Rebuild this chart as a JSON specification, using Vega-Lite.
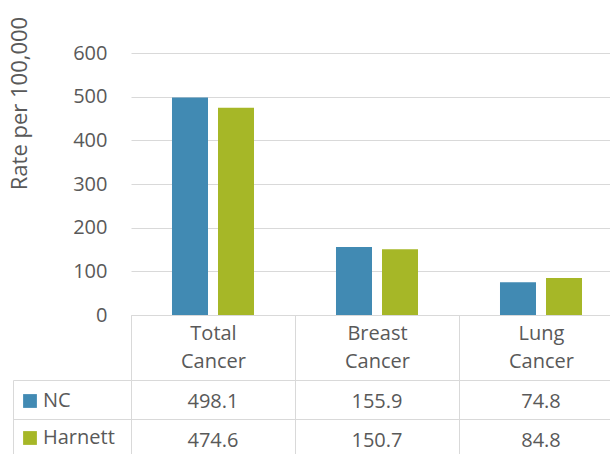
{
  "$schema": "https://vega.github.io/schema/vega-lite/v6.json",
  "padding": {"left": 7, "top": 16, "right": 0, "bottom": 0},
  "config": {"view": {"stroke": null}, "font": "Open Sans"},
  "data": {"values": [
    {"cancer": "Total Cancer", "region": "NC", "rate": 498.1},
    {"cancer": "Total Cancer", "region": "Harnett", "rate": 474.6},
    {"cancer": "Breast Cancer", "region": "NC", "rate": 155.9},
    {"cancer": "Breast Cancer", "region": "Harnett", "rate": 150.7},
    {"cancer": "Lung Cancer", "region": "NC", "rate": 74.8},
    {"cancer": "Lung Cancer", "region": "Harnett", "rate": 84.8}
  ]},
  "spacing": 65,
  "bounds": "flush",
  "resolve": {"scale": {"x": "independent", "y": "independent"}},
  "vconcat": [
    {
      "width": 492,
      "height": 262,
      "mark": {"type": "bar"},
      "encoding": {
        "x": {
          "field": "cancer", "type": "nominal",
          "sort": ["Total Cancer", "Breast Cancer", "Lung Cancer"],
          "scale": {"paddingInner": 0, "paddingOuter": 0},
          "axis": {
            "title": null, "orient": "bottom", "tickBand": "extent", "tickSize": 65,
            "tickColor": "#D9D9D9", "domainColor": "#D9D9D9", "labelAngle": 0,
            "labelExpr": "split(datum.label, ' ')", "labelFontSize": 20,
            "labelColor": "#595959", "labelLineHeight": 28, "labelPadding": -57,
            "grid": false
          }
        },
        "xOffset": {
          "field": "region", "type": "nominal", "sort": ["NC", "Harnett"],
          "scale": {"paddingInner": 0.2174, "paddingOuter": 0.891}
        },
        "y": {
          "field": "rate", "type": "quantitative",
          "scale": {"domain": [0, 600], "nice": false},
          "axis": {
            "values": [0, 100, 200, 300, 400, 500, 600],
            "title": "Rate per 100,000", "domain": false, "ticks": false, "tickSize": 0,
            "labelPadding": 24, "labelFontSize": 20, "labelColor": "#595959",
            "gridColor": "#D9D9D9", "titleFontSize": 22, "titleFontWeight": "normal",
            "titleColor": "#595959", "titleX": -112, "titleY": 50, "titleAngle": -90,
            "titleAlign": "center", "titleBaseline": "middle"
          }
        },
        "color": {
          "field": "region", "type": "nominal",
          "scale": {"domain": ["NC", "Harnett"], "range": ["#418AB3", "#A6B727"]},
          "legend": {
            "orient": "none", "legendX": -111, "legendY": 338, "title": null,
            "symbolType": "square", "symbolSize": 190, "labelFontSize": 20,
            "labelColor": "#595959", "labelOffset": 3, "rowPadding": 17, "padding": 0,
            "symbolStrokeWidth": 0, "direction": "vertical", "symbolOpacity": 1
          }
        }
      }
    },
    {
      "width": 492,
      "height": 78,
      "mark": {"type": "text", "fontSize": 20, "color": "#595959", "dy": 2},
      "encoding": {
        "x": {
          "field": "cancer", "type": "nominal",
          "sort": ["Total Cancer", "Breast Cancer", "Lung Cancer"],
          "scale": {"paddingInner": 0, "paddingOuter": 0},
          "axis": {
            "title": null, "orient": "bottom", "tickBand": "extent", "grid": true,
            "gridColor": "#D9D9D9", "labels": false, "ticks": false, "domain": false
          }
        },
        "y": {
          "field": "region", "type": "nominal",
          "sort": ["NC", "Harnett"],
          "scale": {"domain": ["NC", "Harnett"], "paddingInner": 0, "paddingOuter": 0},
          "axis": {
            "title": null, "orient": "left", "offset": 118, "tickSize": -118,
            "tickBand": "extent", "tickColor": "#D9D9D9", "domainColor": "#D9D9D9",
            "labels": false, "grid": true, "gridColor": "#D9D9D9"
          }
        },
        "text": {"field": "rate", "type": "quantitative", "format": ".1f"}
      }
    }
  ]
}
